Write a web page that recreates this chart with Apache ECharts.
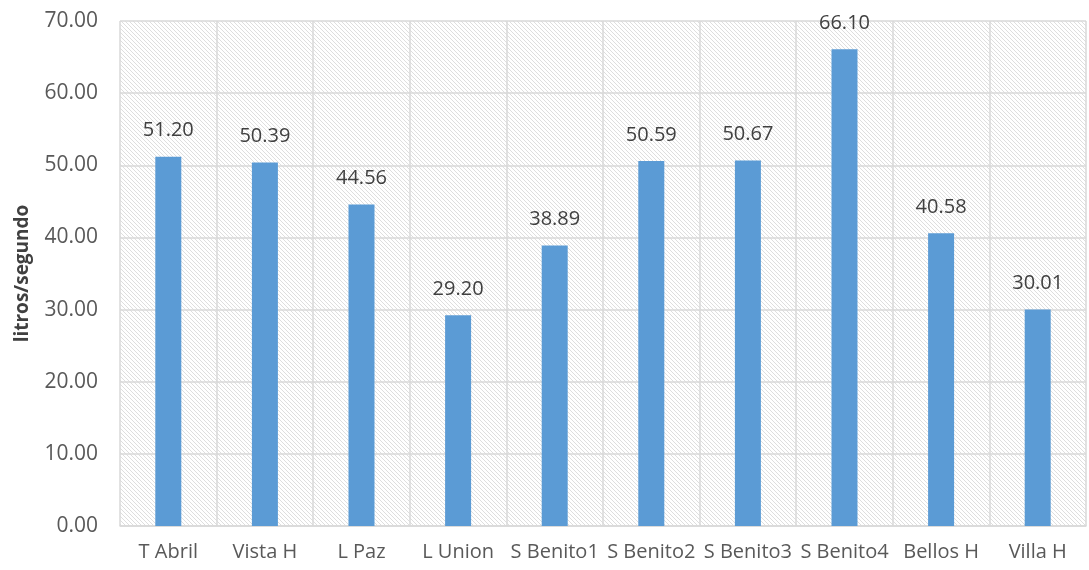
<!DOCTYPE html>
<html><head><meta charset="utf-8">
<script src="https://cdn.jsdelivr.net/npm/echarts@6/dist/echarts.min.js"></script>
<style>html,body{margin:0;padding:0;background:#fff}#c{width:1089px;height:570px}</style>
</head><body><div id="c"></div>
<script>
const categories = ['T Abril','Vista H','L Paz','L Union','S Benito1','S Benito2','S Benito3','S Benito4','Bellos H','Villa H'];
const values = [51.20, 50.39, 44.56, 29.20, 38.89, 50.59, 50.67, 66.10, 40.58, 30.01];
const yTicks = {min: 0, max: 70, interval: 10};

const pc = document.createElement('canvas');
pc.width = 4; pc.height = 4;
const ctx = pc.getContext('2d');
ctx.fillStyle = '#ffffff'; ctx.fillRect(0,0,4,4);
ctx.fillStyle = '#dedede';
for (let i = 0; i < 4; i++) ctx.fillRect(i, i, 1, 1);

const chart = echarts.init(document.getElementById('c'), null, {renderer: 'canvas'});
const font = '"Open Sans", "Noto Sans", sans-serif';
chart.setOption({
  animation: false,
  textStyle: {fontFamily: font},
  grid: {left: 120, right: 3, top: 21, bottom: 44, show: true, borderWidth: 0,
         backgroundColor: {image: pc, repeat: 'repeat'}},
  xAxis: {
    type: 'category', data: categories,
    axisLine: {lineStyle: {color: '#d9d9d9', width: 1.5}},
    axisTick: {show: false},
    splitLine: {show: true, interval: 0, lineStyle: {color: '#d9d9d9', width: 1.5}},
    axisLabel: {color: '#595959', fontSize: 20, margin: 16, interval: 0, fontFamily: font}
  },
  yAxis: {
    type: 'value', min: yTicks.min, max: yTicks.max, interval: yTicks.interval,
    name: 'litros/segundo', nameLocation: 'middle', nameGap: 88,
    nameTextStyle: {color: '#404040', fontSize: 19, fontWeight: 'bold', fontFamily: font},
    axisLine: {show: false}, axisTick: {show: false},
    splitLine: {lineStyle: {color: '#d9d9d9', width: 1.5}},
    axisLabel: {color: '#595959', fontSize: 21, margin: 22, fontFamily: font,
                formatter: v => v.toFixed(2)}
  },
  series: [{
    type: 'bar', data: values, barWidth: 26,
    itemStyle: {color: '#5b9bd5'},
    label: {show: true, position: 'top', distance: 16, color: '#404040', fontSize: 20,
            fontFamily: font, formatter: p => p.value.toFixed(2)}
  }]
});
</script></body></html>
